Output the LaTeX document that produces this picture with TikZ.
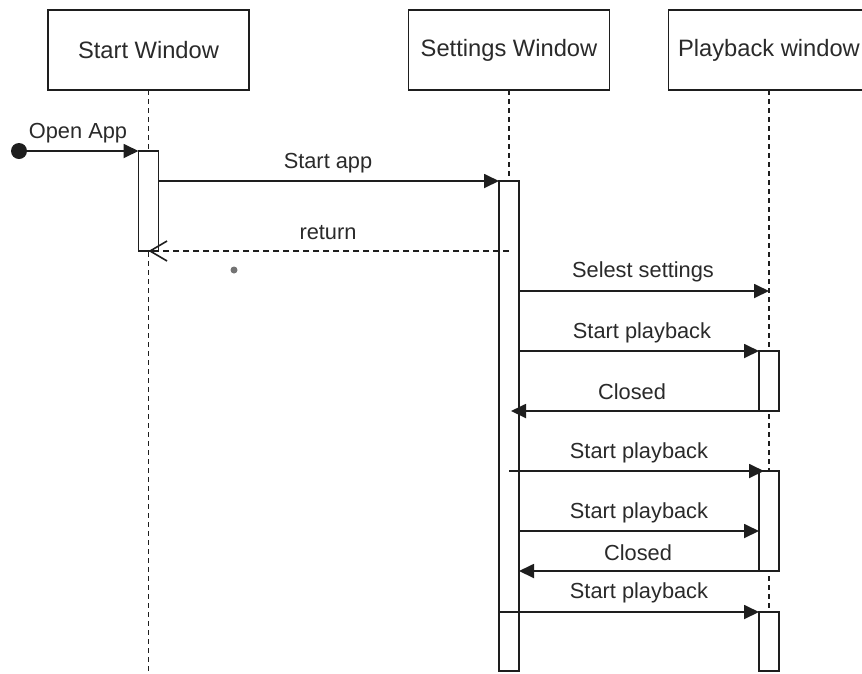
\documentclass[tikz,border=0pt]{standalone}
\usepackage{fontspec}
\setmainfont{Liberation Sans}
\usetikzlibrary{arrows.meta}
\definecolor{ink}{HTML}{1E1E1E}
\definecolor{txt}{HTML}{2A2A2A}
\begin{document}
\begin{tikzpicture}[x=1pt,y=-1pt,
  line width=1.8pt, draw=ink,
  every node/.style={text=txt},
  head/.style={draw=ink, rectangle, fill=white, minimum width=201pt, minimum height=80pt,
    inner sep=0pt, outer sep=0pt, font=\fontsize{23.7}{28}\selectfont},
  act/.style={draw=ink, rectangle, fill=white, minimum width=20pt, inner sep=0pt,
    outer sep=0pt, anchor=north},
  lifeline/.style={line width=1.6pt, dash pattern=on 5pt off 4pt},
  msg/.style={-{Triangle[length=15pt,width=14pt]}},
  ret/.style={dash pattern=on 6pt off 4pt, -{Straight Barb[length=17pt,width=20pt,line width=1.6pt]}},
  lbl/.style={inner sep=0pt, font=\fontsize{21.8}{26}\selectfont}]
\clip (0,0) rectangle (862,673);
\fill[white] (0,0) rectangle (862,673);

% participants
\node[head] (sw)  at (148.5,50) {Start Window};
\node[head] (stw) at (509,50)   {Settings Window};
\node[head] (pw)  at (769,50)   {Playback window};

% lifelines
\coordinate (bot) at (0,672);
\draw[lifeline] (sw.south)  -- (sw.south |- bot);
\draw[lifeline] (stw.south) -- (stw.south |- bot);
\draw[lifeline] (pw.south)  -- (pw.south |- bot);

% activations
\node[act, minimum height=100pt] (a0)  at (148.5,151) {};
\node[act, minimum height=431pt] (a1)  at (509,181) {};
\node[act, minimum height=59pt]  (a1b) at (509,612) {};
\node[act, minimum height=60pt]  (p1)  at (769,351) {};
\node[act, minimum height=100pt] (p2)  at (769,471) {};
\node[act, minimum height=59pt]  (p3)  at (769,612) {};

% found message
\coordinate (start) at (19,151);
\fill[ink] (start) circle (8pt);
\draw[msg] (start) -- (a0.north west);
\node[lbl] (lOpen) at (78,133) {Open App};

% Start Window -> Settings Window
\draw[msg] (a0.east |- a1.north) -- (a1.north west);
\node[lbl] (lStart) at (328,163) {Start app};

\draw[ret] (stw.south |- a0.south) -- (a0.south);
\node[lbl] (lRet) at (328,233) {return};
\fill[gray!90!black] (234,270) circle (3.5pt);

% Settings Window <-> Playback window
\coordinate (m3) at (0,291);
\draw[msg] (a1.east |- m3) -- (pw.south |- m3);
\node[lbl] (lSel) at (643,272) {Selest settings};

\draw[msg] (a1.east |- p1.north) -- (p1.north west);
\node[lbl] (lPb1) at (642,333) {Start playback};

\draw[msg] (p1.south west) -- ([xshift=2pt]stw.south |- p1.south);
\node[lbl] (lCl1) at (632,392) {Closed};

\draw[msg] (stw.south |- p2.north) -- ([xshift=5pt]p2.north west);
\node[lbl] (lPb2) at (639,453) {Start playback};

\coordinate (m7) at (0,531);
\draw[msg] (a1.east |- m7) -- (p2.west |- m7);
\node[lbl] (lPb3) at (639,513) {Start playback};

\draw[msg] (p2.south west) -- (a1.east |- p2.south);
\node[lbl] (lCl2) at (638,553) {Closed};

\draw[msg] (a1b.north west) -- (p3.north west);
\node[lbl] (lPb4) at (639,593) {Start playback};
\end{tikzpicture}
\end{document}
